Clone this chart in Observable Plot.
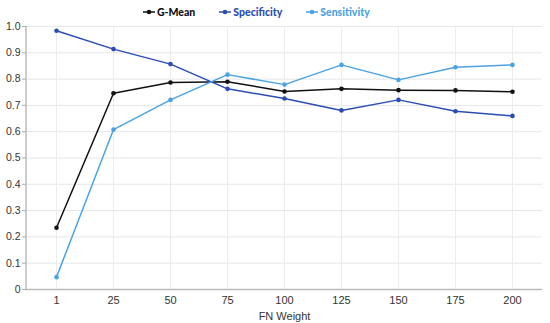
<!DOCTYPE html>
<html><head><meta charset="utf-8">
<script src="https://cdn.jsdelivr.net/npm/d3@7"></script>
<script src="https://cdn.jsdelivr.net/npm/@observablehq/plot@0.6"></script>
<style>
body{margin:0;background:#fff;font-family:"Liberation Sans",Arial,sans-serif;}
#legend{height:20px;display:flex;justify-content:flex-start;align-items:center;gap:24px;font-family:Lato,"Open Sans",sans-serif;font-weight:900;font-size:10.5px;padding-top:4px;padding-left:143px;box-sizing:border-box;}
#legend span{display:flex;align-items:center;gap:2px;}
</style></head>
<body>
<div id="legend"></div>
<div id="chart"></div>
<script>
const weights = ["1","25","50","75","100","125","150","175","200"];
const gmean = [0.235,0.746,0.787,0.790,0.753,0.763,0.758,0.757,0.752];
const specificity = [0.984,0.914,0.857,0.763,0.726,0.681,0.721,0.678,0.660];
const sensitivity = [0.047,0.608,0.721,0.817,0.779,0.854,0.797,0.845,0.854];
const seriesNames = ["G-Mean","Specificity","Sensitivity"];
const seriesColors = ["#111111","#2b4db3","#4ba3e3"];
const yTicks = [0,0.1,0.2,0.3,0.4,0.5,0.6,0.7,0.8,0.9,1.0];

const allVals = [gmean, specificity, sensitivity];
const data = [];
seriesNames.forEach((s,i)=>weights.forEach((w,j)=>data.push({series:s, w, v:allVals[i][j]})));

const leg = document.getElementById("legend");
seriesNames.forEach((s,i)=>{
  const sp = document.createElement("span");
  sp.style.color = seriesColors[i];
  sp.innerHTML = `<svg width="12" height="8"><line x1="0" x2="12" y1="4" y2="4" stroke="${seriesColors[i]}" stroke-width="1.5"/><circle cx="6" cy="4" r="2.3" fill="${seriesColors[i]}"/></svg>${s}`;
  leg.appendChild(sp);
});

const chart = Plot.plot({
  width: 550, height: 303,
  marginTop: 6, marginBottom: 34, marginLeft: 26, marginRight: 8,
  style: {fontFamily: '"Liberation Sans", Arial, sans-serif', fontSize: "10.5px", color: "#333"},
  x: {type: "point", domain: weights, padding: 0.5, label: null},
  y: {domain: [0, 1], label: null},
  color: {domain: seriesNames, range: seriesColors},
  marks: [
    Plot.gridY(yTicks, {stroke: "#e6e6e6", strokeOpacity: 1}),
    Plot.gridX(weights, {stroke: "#ececec", strokeOpacity: 1}),
    Plot.axisY(yTicks, {tickSize: 4, tickFormat: d => d === 0 ? "0" : d3.format(".1f")(d), stroke: "#aaa", fill: "#333", fontSize: 10.5, tickPadding: 2}),
    Plot.axisX(weights, {tickSize: 0, tickPadding: 7, fill: "#333", fontSize: 11}),
    Plot.ruleY([0], {stroke: "#bbb", strokeWidth: 1.5}),
    Plot.line(data, {x: "w", y: "v", z: "series", stroke: "series", strokeWidth: 1.5}),
    Plot.dot(data, {x: "w", y: "v", fill: "series", r: 2.3}),
    Plot.text(["FN Weight"], {frameAnchor: "bottom", dy: 30, fill: "#333", fontSize: 11})
  ]
});
const svg = d3.select(chart);
svg.append("line").attr("x1",26).attr("x2",26).attr("y1",6).attr("y2",269).attr("stroke","#bbb").attr("stroke-width",1.5);
document.getElementById("chart").appendChild(chart);
</script>
</body></html>
